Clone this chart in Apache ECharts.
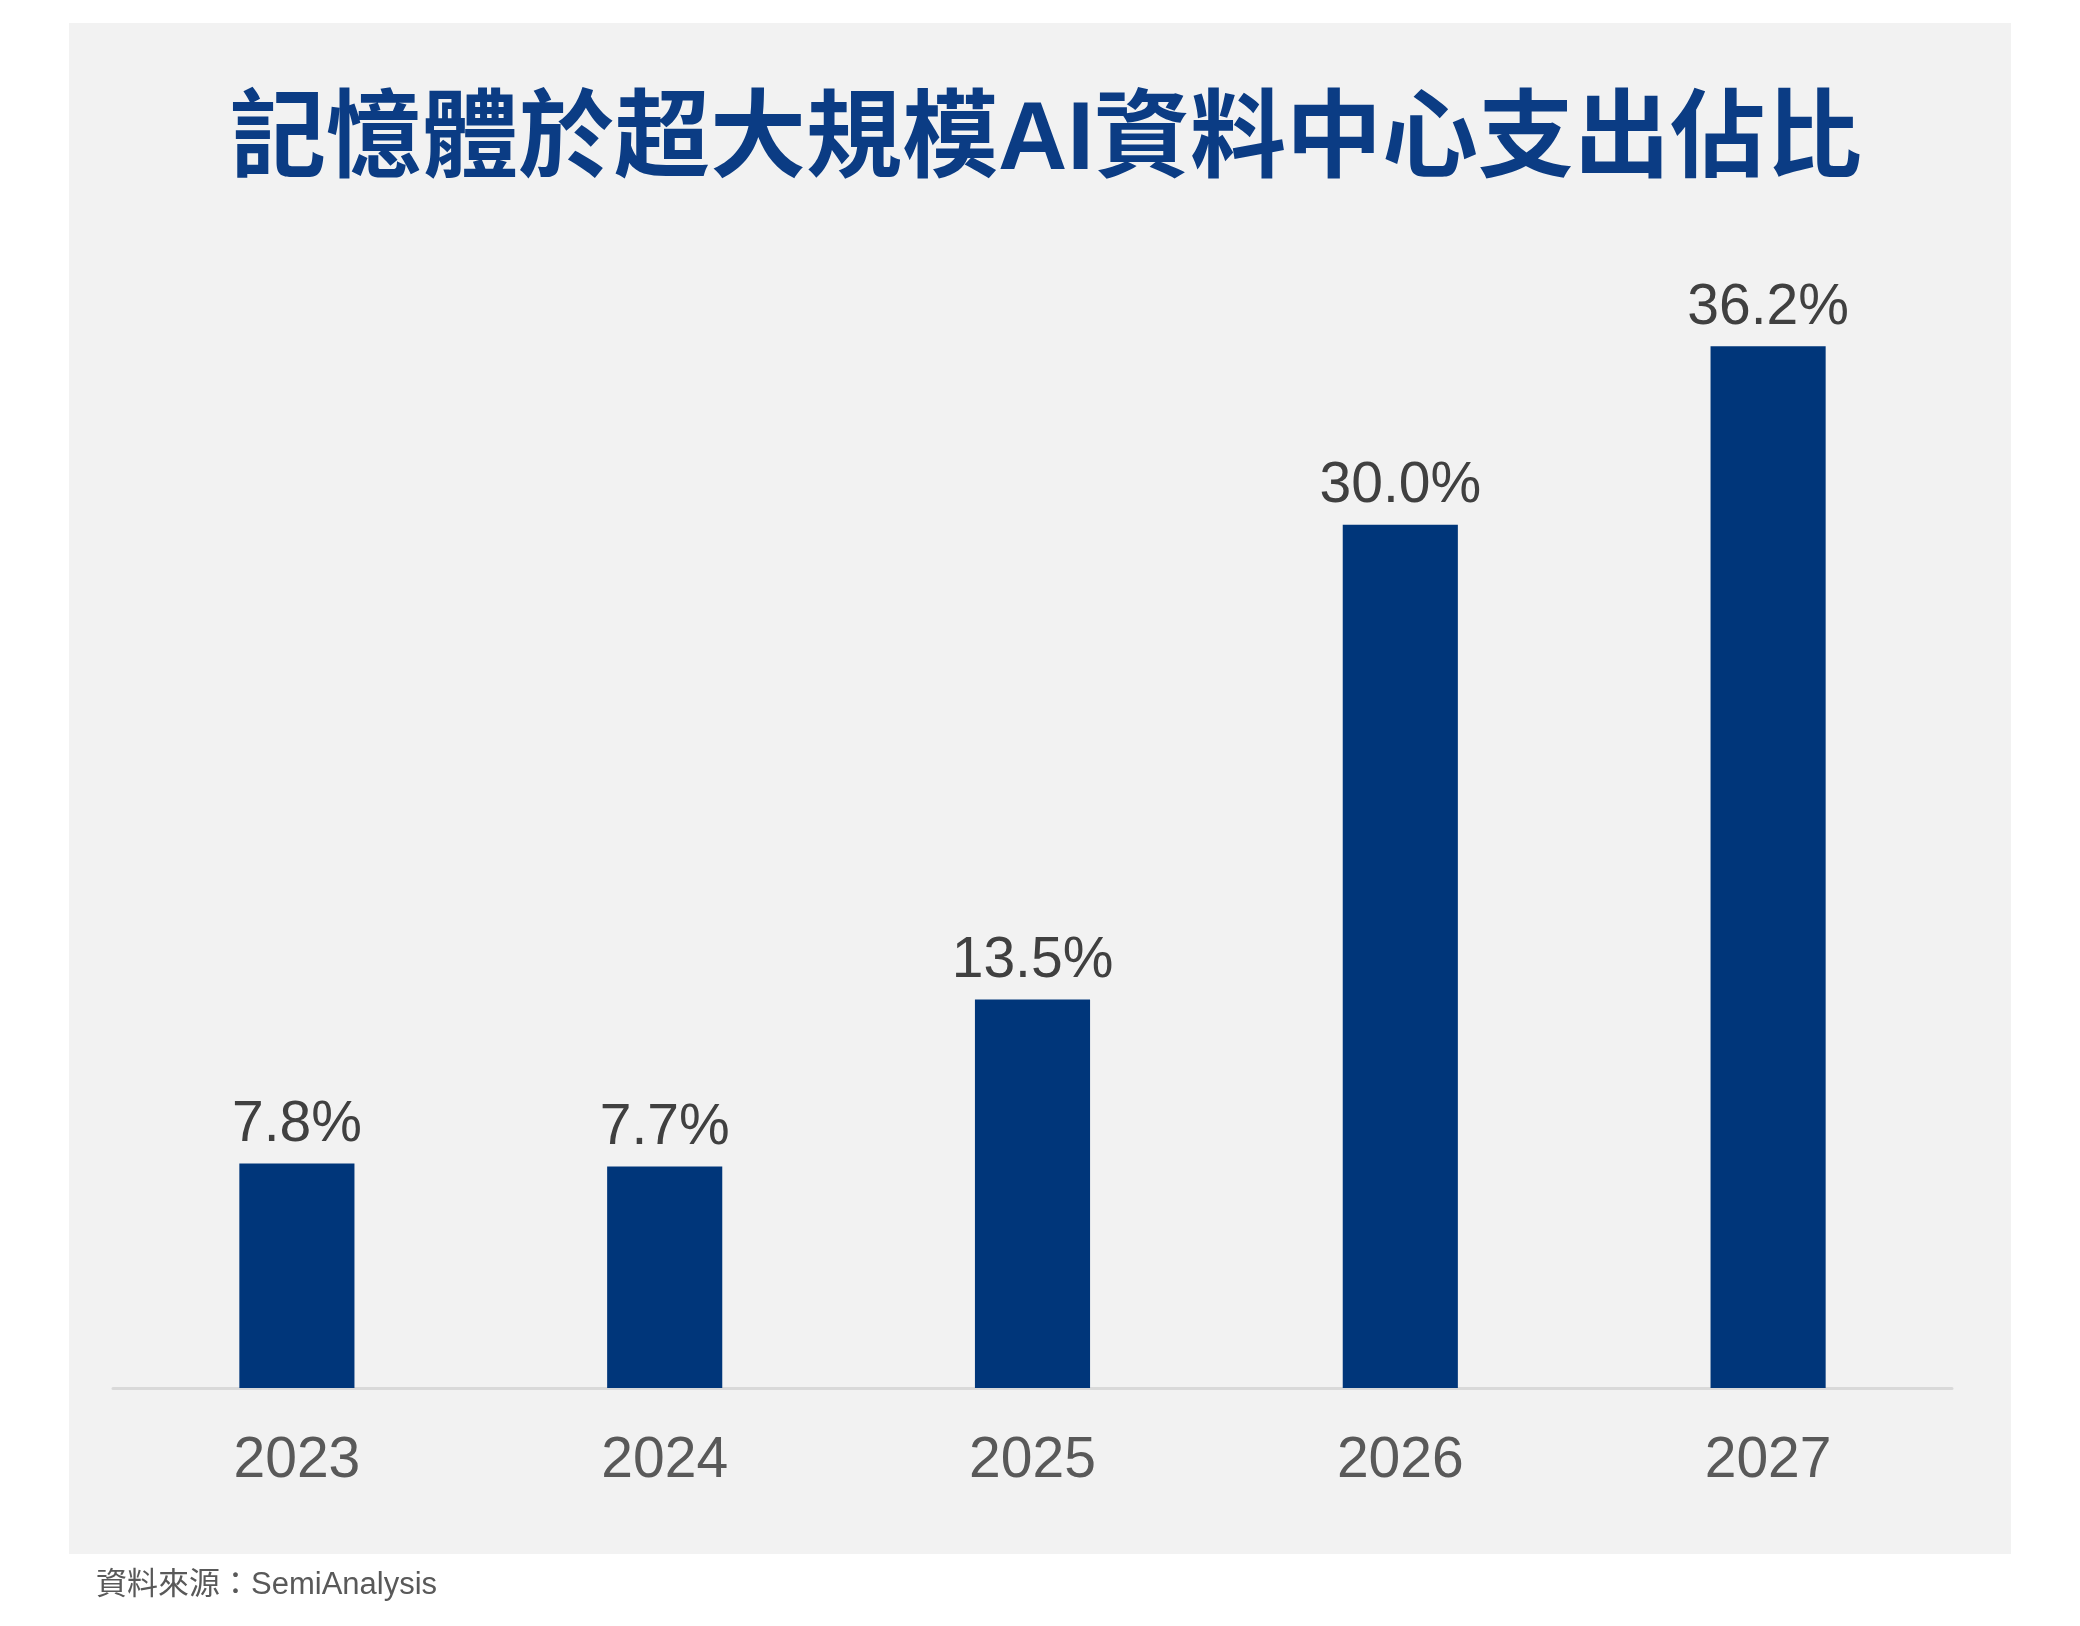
<!DOCTYPE html>
<html>
<head>
<meta charset="utf-8">
<script src="https://cdn.jsdelivr.net/npm/echarts@6/dist/echarts.min.js"></script>
<style>
html,body{margin:0;padding:0;background:#ffffff;}
#chart{width:2080px;height:1626px;}
</style>
</head>
<body>
<div id="chart"></div>
<script>
const categories = ['2023', '2024', '2025', '2026', '2027'];
const values = [7.8, 7.7, 13.5, 30.0, 36.2];
const titleText = '記憶體於超大規模AI資料中心支出佔比';
const sourceText = '資料來源：SemiAnalysis';

const chart = echarts.init(document.getElementById('chart'), null, {renderer: 'canvas'});
const latin = '"Liberation Sans", Arial, "Noto Sans CJK TC", sans-serif';

chart.setOption({
  backgroundColor: '#ffffff',
  animation: false,
  graphic: [
    {
      type: 'rect', z: -10, silent: true,
      shape: {x: 69, y: 23, width: 1942, height: 1531},
      style: {fill: '#f2f2f2'}
    },
    {
      type: 'text', z: 10,
      style: {
        text: titleText, x: 1046, y: 143,
        textAlign: 'center', textVerticalAlign: 'middle',
        fontFamily: '"Liberation Sans", "Noto Sans CJK TC", sans-serif',
        fontWeight: 'bold', fontSize: 96, fill: '#0b3c84'
      }
    },
    {
      type: 'text', z: 10,
      style: {
        text: sourceText, x: 96, y: 1585,
        textAlign: 'left', textVerticalAlign: 'middle',
        fontFamily: latin, fontSize: 31, fill: '#595959'
      }
    }
  ],
  grid: {left: 113, right: 2080 - 1952, top: 237, bottom: 1626 - 1388, containLabel: false},
  xAxis: {
    type: 'category',
    data: categories,
    axisLine: {show: true, lineStyle: {color: '#d9d9d9', width: 3}},
    axisTick: {show: false},
    axisLabel: {color: '#595959', fontSize: 57, fontFamily: latin, margin: 45}
  },
  yAxis: {
    type: 'value', min: 0, max: 40,
    show: false,
    splitLine: {show: false}
  },
  series: [{
    type: 'bar',
    data: values,
    barWidth: '31.3%',
    itemStyle: {color: '#00367a'},
    label: {
      show: true, position: 'top', distance: 10,
      color: '#404040', fontSize: 57, fontFamily: latin,
      formatter: p => p.value.toFixed(1) + '%'
    }
  }]
});
</script>
</body>
</html>
